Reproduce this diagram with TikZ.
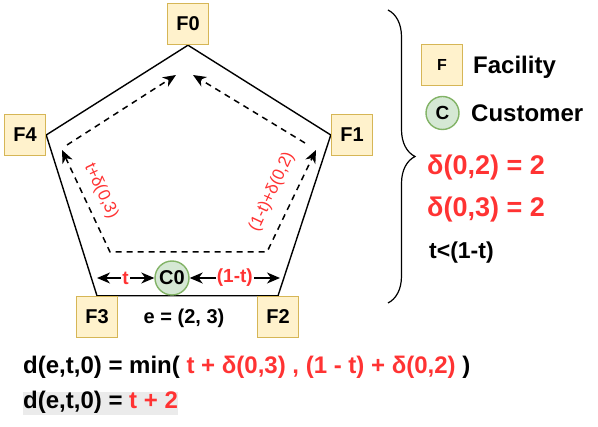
\documentclass[tikz,border=0pt]{standalone}
\usepackage{fontspec}
\setmainfont{Liberation Sans}
\usetikzlibrary{arrows.meta,decorations.pathreplacing,backgrounds}
\definecolor{fred}{HTML}{FF3333}
\definecolor{boxfill}{HTML}{FFF2CC}
\definecolor{boxdraw}{HTML}{D6B656}
\definecolor{cfill}{HTML}{D5E8D4}
\definecolor{cdraw}{HTML}{82B366}
\definecolor{hl}{HTML}{EBEBEB}
\newcommand{\fsz}[1]{\fontsize{#1}{#1}\selectfont}
\begin{document}
\begin{tikzpicture}[x=1pt,y=-1pt,
  fac/.style={draw=boxdraw, fill=boxfill, line width=1.4pt, minimum width=41pt, minimum height=41pt, inner sep=0pt, font=\fsz{20}\bfseries},
  cust/.style={circle, draw=cdraw, fill=cfill, line width=1.4pt, minimum size=34pt, inner sep=0pt, font=\fsz{20}\bfseries},
  edgeline/.style={line width=1.4pt},
  dashpath/.style={line width=1.5pt, dash pattern=on 6pt off 5pt},
  tip/.style={-{Stealth[length=13pt,width=11pt,inset=4pt]}},
  dtip/.style={{Stealth[length=13pt,width=11pt,inset=4pt]}-{Stealth[length=13pt,width=11pt,inset=4pt]}},
  lbl/.style={text=fred, font=\fsz{17}, inner sep=1pt},
  legtext/.style={anchor=west, font=\fsz{24}\bfseries, inner sep=0pt},
  big/.style={anchor=west, font=\fsz{27}\bfseries, inner sep=0pt},
  formula/.style={anchor=west, font=\fsz{24}\bfseries, inner sep=0pt}
]
\useasboundingbox (0,0) rectangle (598,427);

% facilities
\node[fac] (F0) at (188,24) {F0};
\node[fac] (F4) at (25,135) {F4};
\node[fac] (F1) at (352,135) {F1};
\node[fac] (F3) at (97,317) {F3};
\node[fac] (F2) at (278,317) {F2};
\node[cust] (C0) at (172,278) {C0};

\begin{scope}[on background layer]
  \draw[edgeline] (F0.south) -- (F1.west) -- (F2.north) -- (F3.north) -- (F4.east) -- cycle;
\end{scope}

% arrows at customer
\coordinate (A3) at (97,278);
\coordinate (A2) at (280,278);
\draw[edgeline, dtip] (A3) -- node[fill=white, text=fred, font=\fsz{19}\bfseries, inner sep=1pt] {t} (C0.west);
\draw[edgeline, dtip] (C0.east) -- node[fill=white, text=fred, font=\fsz{19}\bfseries, inner sep=1pt] {(1-t)} (A2);

\node[font=\fsz{20}\bfseries] (E) at (184,318) {e = (2, 3)};

% dashed paths
\coordinate (L1) at (62,150);
\coordinate (L2) at (110,252);
\coordinate (R2) at (267,252);
\coordinate (R1) at (316,150);
\coordinate (LT0) at (67,145);
\coordinate (LT1) at (176,75);
\coordinate (RT0) at (305,143);
\coordinate (RT1) at (193,75);
\draw[dashpath, dtip] (L1) -- (L2) -- (R2) -- (R1);
\draw[dashpath, tip] (LT0) -- (LT1);
\draw[dashpath, tip] (RT0) -- (RT1);

\node[lbl, rotate=-65] (LL) at (101,191) {t+δ(0,3)};
\node[lbl, rotate=65] (RL) at (272,192) {(1-t)+δ(0,2)};

% brace
\draw[line width=1.2pt, decorate, decoration={brace, amplitude=27pt}] (388,10) -- (388,303);

% legend
\node[fac, font=\fsz{16}\bfseries] (LF) at (442,65) {F};
\node[legtext] (LFt) at (473,67) {Facility};
\node[cust, minimum size=33pt, font=\fsz{19}\bfseries] (LC) at (442.5,113) {C};
\node[legtext] (LCt) at (471,113) {Customer};

\node[big, text=fred] (D2) at (427,168) {δ(0,2) = 2};
\node[big, text=fred] (D3) at (427,210) {δ(0,3) = 2};
\node[legtext, font=\fsz{23}\bfseries] (TT) at (429,253) {t<(1-t)};

% formulas
\node[formula] (M1) at (23,367) {d(e,t,0) = min( \textcolor{fred}{t + δ(0,3) , (1 - t) + δ(0,2)} )};
\node[formula, fill=hl, text height=17pt, text depth=6pt] (M2) at (23,403.5) {d(e,t,0) = \textcolor{fred}{t + 2}};
\end{tikzpicture}
\end{document}
